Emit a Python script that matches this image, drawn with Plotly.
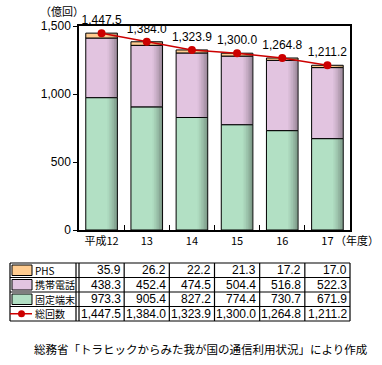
import plotly.graph_objects as go

categories = ["平成12", "13", "14", "15", "16", "17"]
phs = [35.9, 26.2, 22.2, 21.3, 17.2, 17.0]
mobile = [438.3, 452.4, 474.5, 504.4, 516.8, 522.3]
fixed = [973.3, 905.4, 827.2, 774.4, 730.7, 671.9]
total = [1447.5, 1384.0, 1323.9, 1300.0, 1264.8, 1211.2]
series_names = ["PHS", "携帯電話", "固定端末", "総回数"]
y_ticks = [0, 500, 1000, 1500]
y_title = "（億回）"
x_unit = "（年度）"
source = "総務省「トラヒックからみた我が国の通信利用状況」により作成"

C_PHS = "#FFCC90"
C_MOB = "#E2C4E0"
C_FIX = "#B2E0C4"
C_RED = "#CC0000"
FONT = "Noto Sans CJK JP"
NUMFONT = "Liberation Sans"

W, H = 382, 365
PL, PR, PT, PB = 79, 350, 26, 230


def xp(px):
    return (px - PL) / (PR - PL)


def yp(py):
    return (PB - py) / (PB - PT)


def fmt(v):
    return f"{v:,.1f}"


fig = go.Figure()
bw = 0.70
base_mob = [f for f in fixed]
base_phs = [f + m for f, m in zip(fixed, mobile)]
for vals, base, col, name in [(fixed, [0] * 6, C_FIX, series_names[2]),
                              (mobile, base_mob, C_MOB, series_names[1]),
                              (phs, base_phs, C_PHS, series_names[0])]:
    fig.add_trace(go.Bar(x=categories, y=vals, base=base, name=name,
                         width=bw, offset=-bw / 2,
                         marker=dict(color=col, line=dict(color="black", width=1)),
                         hoverinfo="skip"))

# right-side shading strips
stack_top = [f + m + p for f, m, p in zip(fixed, mobile, phs)]
alphas = [0.04, 0.09, 0.15, 0.22, 0.30, 0.36]
sw = 0.036
for i, a in enumerate(alphas):
    fig.add_trace(go.Bar(x=categories, y=stack_top, base=[0] * 6,
                         width=sw, offset=0.127 + i * sw,
                         marker=dict(color=f"rgba(40,40,40,{a})", line=dict(width=0)),
                         hoverinfo="skip", showlegend=False))

fig.add_trace(go.Scatter(x=categories, y=total, mode="lines+markers+text",
                         name=series_names[3],
                         line=dict(color=C_RED, width=1.5),
                         marker=dict(color=C_RED, size=8),
                         text=[fmt(v) for v in total], textposition="top center",
                         textfont=dict(family=NUMFONT, size=12, color="black"),
                         cliponaxis=False, hoverinfo="skip"))

fig.update_layout(
    width=W, height=H, barmode="overlay", showlegend=False,
    margin=dict(l=PL, r=W - PR, t=PT, b=H - PB, pad=0),
    paper_bgcolor="white", plot_bgcolor="white",
    font=dict(family=FONT, size=12, color="black"),
    xaxis=dict(showgrid=False, showline=True, linecolor="black", linewidth=1.5,
               mirror=True, ticks="inside", tickson="boundaries", ticklen=5,
               tickcolor="black", tickfont=dict(size=11, family=FONT), tickangle=0,
               automargin=False),
    yaxis=dict(range=[0, 1500], tickvals=y_ticks, tickformat=",d", showgrid=False,
               showline=True, linecolor="black", linewidth=1.5, mirror=True,
               ticks="outside", ticklen=4, tickcolor="black",
               tickfont=dict(size=12, family=NUMFONT), zeroline=False,
               automargin=False),
)

ann = []
shp = []
ann.append(dict(x=xp(62), y=yp(11), xref="paper", yref="paper", text=y_title,
                showarrow=False, font=dict(size=11), xanchor="center", yanchor="middle"))
ann.append(dict(x=xp(333), y=yp(240), xref="paper", yref="paper", text=x_unit,
                showarrow=False, font=dict(size=11), xanchor="left", yanchor="middle"))

# table
rows = [263, 277.5, 292, 306.5, 321]
TL, TLab = 10, 76
cw = (PR - PL) / len(categories)
cols = [PL + cw * k for k in range(len(categories) + 1)]

line = dict(color="black", width=1.2)
for r in rows:
    shp.append(dict(type="line", xref="paper", yref="paper", x0=xp(TL), x1=xp(PR),
                    y0=yp(r), y1=yp(r), line=line))
for c in [TL, TLab] + cols:
    shp.append(dict(type="line", xref="paper", yref="paper", x0=xp(c), x1=xp(c),
                    y0=yp(rows[0]), y1=yp(rows[-1]), line=line))

table_rows = [phs, mobile, fixed, total]
swatch_cols = [C_PHS, C_MOB, C_FIX]
for i, (name, vals) in enumerate(zip(series_names, table_rows)):
    top, bot = rows[i], rows[i + 1]
    mid = (top + bot) / 2
    if i < 3:
        shp.append(dict(type="rect", xref="paper", yref="paper", x0=xp(12), x1=xp(32),
                        y0=yp(top + 2), y1=yp(bot - 2), fillcolor=swatch_cols[i],
                        line=dict(color="black", width=1)))
    else:
        shp.append(dict(type="line", xref="paper", yref="paper", x0=xp(10), x1=xp(32),
                        y0=yp(mid), y1=yp(mid), line=dict(color=C_RED, width=1.5)))
        shp.append(dict(type="circle", xref="paper", yref="paper", x0=xp(18), x1=xp(25),
                        y0=yp(mid - 3.5), y1=yp(mid + 3.5), fillcolor=C_RED,
                        line=dict(color=C_RED, width=0)))
    ann.append(dict(x=xp(33), y=yp(mid), xref="paper", yref="paper", text=name,
                    showarrow=False, font=dict(size=10), xanchor="left", yanchor="middle"))
    for k, v in enumerate(vals):
        ann.append(dict(x=xp(cols[k + 1] - 1.5), y=yp(mid), xref="paper", yref="paper",
                        text=fmt(v), showarrow=False, font=dict(size=12, family=NUMFONT),
                        xanchor="right", yanchor="middle"))

ann.append(dict(x=xp(370), y=yp(349), xref="paper", yref="paper", text=source,
                showarrow=False, font=dict(size=11.5), xanchor="right", yanchor="middle"))

fig.update_layout(annotations=ann, shapes=shp)
fig.write_html("out.html", config={"displayModeBar": False},
               post_script="document.body.style.margin='0';document.body.style.overflow='hidden';")
